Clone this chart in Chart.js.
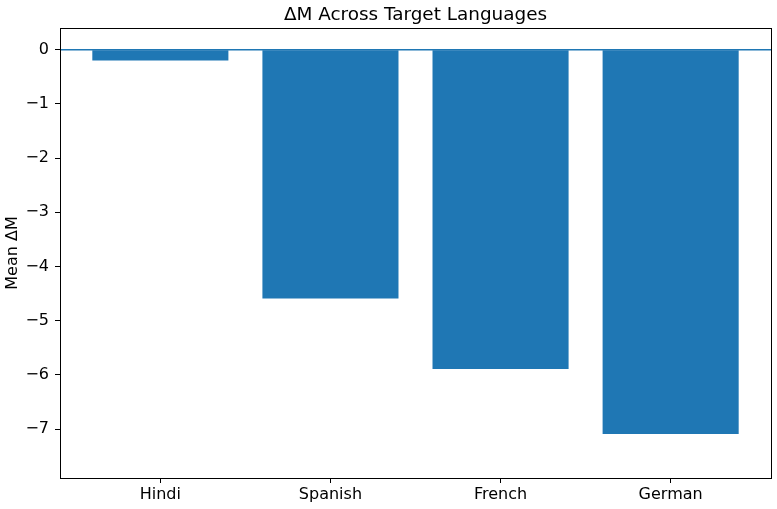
<!DOCTYPE html>
<html>
<head>
<meta charset="utf-8">
<script src="https://cdn.jsdelivr.net/npm/chart.js@4.4.0/dist/chart.umd.min.js"></script>
<style>
  html, body { margin: 0; padding: 0; background: #fff; }
  #wrap { width: 777px; height: 509px; }
</style>
</head>
<body>
<div id="wrap"><canvas id="barChart"></canvas></div>
<script>
// categories and mean delta M values
const languages = ['Hindi', 'Spanish', 'French', 'German'];
const meanDeltaM = [-0.2, -4.59, -5.89, -7.09];
const yTicks = [0, -1, -2, -3, -4, -5, -6, -7];
const chartTitle = 'ΔM Across Target Languages';

const blue = '#1f77b4';
const font = "'DejaVu Sans', sans-serif";

// frame round the plot, the y=0 line (axhline) and the title centred over the axes
const framePlugin = {
  id: 'frame',
  afterDatasetsDraw(chart) {
    const { ctx, chartArea: a, scales } = chart;
    const y0 = scales.y.getPixelForValue(0);
    ctx.save();
    ctx.strokeStyle = blue;
    ctx.lineWidth = 1.5;
    ctx.beginPath();
    ctx.moveTo(a.left, y0);
    ctx.lineTo(a.right, y0);
    ctx.stroke();
    ctx.strokeStyle = '#000';
    ctx.lineWidth = 1;
    ctx.strokeRect(Math.round(a.left) + 0.5, Math.round(a.top) + 0.5,
      Math.round(a.right - a.left), Math.round(a.bottom - a.top));

    ctx.fillStyle = '#000';
    ctx.font = '18.4px ' + font;
    ctx.textAlign = 'center';
    ctx.textBaseline = 'alphabetic';
    ctx.fillText(chartTitle, (a.left + a.right) / 2, a.top - 8);
    ctx.restore();
  }
};

const ctx = document.getElementById('barChart').getContext('2d');
new Chart(ctx, {
  type: 'bar',
  data: {
    datasets: [{
      data: meanDeltaM.map((v, i) => ({ x: i, y: v })),
      backgroundColor: blue,
      borderWidth: 0,
      barPercentage: 0.8,
      categoryPercentage: 1.0
    }]
  },
  options: {
    responsive: true,
    maintainAspectRatio: false,
    animation: false,
    layout: { padding: { right: 6, top: 28, bottom: 0, left: 0 } },
    plugins: {
      legend: { display: false },
      tooltip: { enabled: false },
      title: { display: false }
    },
    scales: {
      x: {
        type: 'linear',
        offset: false,
        min: -0.59,
        max: 3.59,
        afterBuildTicks: axis => { axis.ticks = languages.map((_, i) => ({ value: i })); },
        afterFit: axis => { axis.height = 31; },
        ticks: {
          callback: v => languages[v],
          color: '#000',
          font: { family: font, size: 16 },
          padding: 2,
          maxRotation: 0,
          autoSkip: false
        },
        grid: { display: true, offset: false, drawOnChartArea: false, drawTicks: true, tickLength: 5, color: '#000' },
        border: { display: false }
      },
      y: {
        min: -7.9,
        max: 0.4,
        afterBuildTicks: axis => { axis.ticks = yTicks.map(v => ({ value: v })); },
        afterFit: axis => { axis.width = 60; },
        ticks: {
          callback: v => (v < 0 ? '\u2212' + Math.abs(v) : String(v)),
          color: '#000',
          font: { family: font, size: 16 },
          padding: 6
        },
        grid: { display: true, drawOnChartArea: false, drawTicks: true, tickLength: 5, color: '#000' },
        border: { display: false },
        title: {
          display: true,
          text: 'Mean ΔM',
          color: '#000',
          font: { family: font, size: 16 },
          padding: { top: 3, bottom: 0 }
        }
      }
    }
  },
  plugins: [framePlugin]
});
</script>
</body>
</html>
